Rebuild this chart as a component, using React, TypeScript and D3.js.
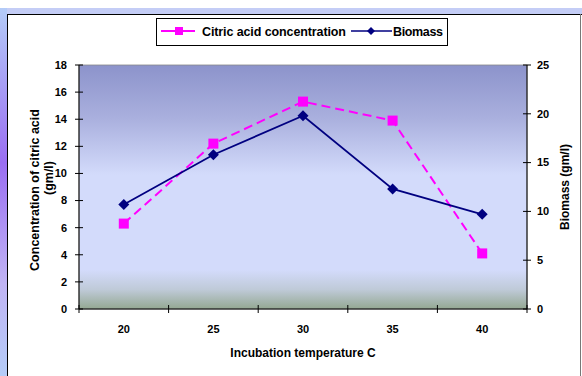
import React from 'react'
import * as d3 from 'd3'

const temperatures = ['20', '25', '30', '35', '40']
const citricAcid = [6.3, 12.2, 15.3, 13.9, 4.1]
const biomass = [10.7, 15.8, 19.8, 12.3, 9.7]
const leftTicks = [0, 2, 4, 6, 8, 10, 12, 14, 16, 18]
const rightTicks = [0, 5, 10, 15, 20, 25]

const W = 582
const H = 376
const plot = { left: 79, right: 527, top: 65, bottom: 309 }
const font = '"Liberation Sans", Arial, sans-serif'

function App() {
  const x = d3
    .scaleBand()
    .domain(temperatures)
    .range([plot.left, plot.right])
  const yLeft = d3.scaleLinear().domain([0, 18]).range([plot.bottom, plot.top])
  const yRight = d3.scaleLinear().domain([0, 25]).range([plot.bottom, plot.top])
  const cx = (t: string) => (x(t) as number) + x.bandwidth() / 2

  const citricLine = d3
    .line<number>()
    .x((_, i) => cx(temperatures[i]))
    .y(d => yLeft(d))(citricAcid)
  const biomassLine = d3
    .line<number>()
    .x((_, i) => cx(temperatures[i]))
    .y(d => yRight(d))(biomass)

  const diamond = (px: number, py: number, r = 5) =>
    `M${px},${py - r}L${px + r},${py}L${px},${py + r}L${px - r},${py}Z`

  const xTickPos = [...temperatures.map(t => x(t) as number), plot.right]

  return (
    <div style={{ position: 'fixed', left: 0, top: 0 }}>
      <svg width={W} height={H} style={{ display: 'block', fontFamily: font }}>
        <defs>
          <linearGradient id="plot-bg" x1="0" y1="0" x2="0" y2="1">
            <stop offset="0%" stopColor="#8c93cb" />
            <stop offset="22%" stopColor="#aab0de" />
            <stop offset="45%" stopColor="#d3dbfb" />
            <stop offset="84%" stopColor="#d3dbfb" />
            <stop offset="92%" stopColor="#bfcad8" />
            <stop offset="100%" stopColor="#94a892" />
          </linearGradient>
          <linearGradient id="side-bg" x1="0" y1="0" x2="0" y2="1">
            <stop offset="0%" stopColor="#b4ccf8" />
            <stop offset="42%" stopColor="#9a6ef2" />
            <stop offset="75%" stopColor="#c0b4f4" />
            <stop offset="100%" stopColor="#b4ccf8" />
          </linearGradient>
        </defs>
        <rect width={W} height={H} fill="#fff" />
        <rect x={0} y={8} width={W} height={6} fill="#c4cdf6" />
        <rect x={0} y={8} width={7} height={H - 8} fill="url(#side-bg)" />
        <rect x={7} y={14} width={W - 7} height={H - 14} fill="#fff" />
        <line x1={7.5} y1={14} x2={7.5} y2={H} stroke="#000" />
        <line x1={7} y1={14.5} x2={W} y2={14.5} stroke="#000" />
        <line x1={580.5} y1={14} x2={580.5} y2={H} stroke="#777" />

        {/* legend */}
        <rect x={156.5} y={18.5} width={291} height={27} fill="#fff" stroke="#000" />
        <line x1={161} y1={31} x2={195} y2={31} stroke="#ff00ff" strokeWidth={2} />
        <rect x={175} y={27} width={8} height={8} fill="#ff00ff" />
        <text x={202} y={35.5} fontSize={12.5} fontWeight="bold" fill="#000" textLength={144}>
          Citric acid concentration
        </text>
        <line x1={351} y1={31} x2={392} y2={31} stroke="#000080" strokeWidth={1.5} />
        <path d={diamond(371, 31, 4)} fill="#000080" />
        <text x={393} y={35.5} fontSize={12.5} fontWeight="bold" fill="#000" textLength={50}>
          Biomass
        </text>

        {/* plot area */}
        <rect
          x={plot.left}
          y={plot.top}
          width={plot.right - plot.left}
          height={plot.bottom - plot.top}
          fill="url(#plot-bg)"
          stroke="#888"
          strokeWidth={0.8}
        />

        {/* axes */}
        <line x1={plot.left} y1={plot.top} x2={plot.left} y2={plot.bottom} stroke="#000" />
        <line x1={plot.right} y1={plot.top} x2={plot.right} y2={plot.bottom} stroke="#000" />
        <line x1={plot.left} y1={plot.bottom} x2={plot.right} y2={plot.bottom} stroke="#000" />
        {leftTicks.map(t => (
          <g key={`l${t}`}>
            <line x1={plot.left - 4} x2={plot.left + 4} y1={yLeft(t)} y2={yLeft(t)} stroke="#000" />
            <text
              x={plot.left - 12}
              y={yLeft(t)}
              dy="0.35em"
              textAnchor="end"
              fontSize={11}
              fontWeight="bold"
            >
              {t}
            </text>
          </g>
        ))}
        {rightTicks.map(t => (
          <g key={`r${t}`}>
            <line x1={plot.right - 4} x2={plot.right + 4} y1={yRight(t)} y2={yRight(t)} stroke="#000" />
            <text x={plot.right + 10} y={yRight(t)} dy="0.35em" fontSize={11} fontWeight="bold">
              {t}
            </text>
          </g>
        ))}
        {xTickPos.map((p, i) => (
          <line key={`x${i}`} x1={p} x2={p} y1={plot.bottom - 4} y2={plot.bottom + 4} stroke="#000" />
        ))}
        {temperatures.map(t => (
          <text key={t} x={cx(t)} y={333} textAnchor="middle" fontSize={11} fontWeight="bold">
            {t}
          </text>
        ))}

        {/* axis titles */}
        <text x={303} y={357} textAnchor="middle" fontSize={12} fontWeight="bold">
          Incubation temperature C
        </text>
        <text transform="translate(39,190) rotate(-90)" textAnchor="middle" fontSize={12.5} fontWeight="bold">
          Concentration of citric acid
        </text>
        <text transform="translate(53,178) rotate(-90)" textAnchor="middle" fontSize={12.5} fontWeight="bold">
          (gm/l)
        </text>
        <text transform="translate(569,187) rotate(-90)" textAnchor="middle" fontSize={12} fontWeight="bold">
          Biomass (gm/l)
        </text>

        {/* series */}
        <path d={citricLine ?? ''} fill="none" stroke="#ff00ff" strokeWidth={2} strokeDasharray="9,5" />
        <path d={biomassLine ?? ''} fill="none" stroke="#000080" strokeWidth={1.8} />
        {citricAcid.map((v, i) => (
          <rect
            key={`c${i}`}
            x={cx(temperatures[i]) - 5}
            y={yLeft(v) - 5}
            width={10}
            height={10}
            fill="#ff00ff"
          />
        ))}
        {biomass.map((v, i) => (
          <path key={`b${i}`} d={diamond(cx(temperatures[i]), yRight(v), 5.5)} fill="#000080" />
        ))}
      </svg>
    </div>
  )
}

export default App
